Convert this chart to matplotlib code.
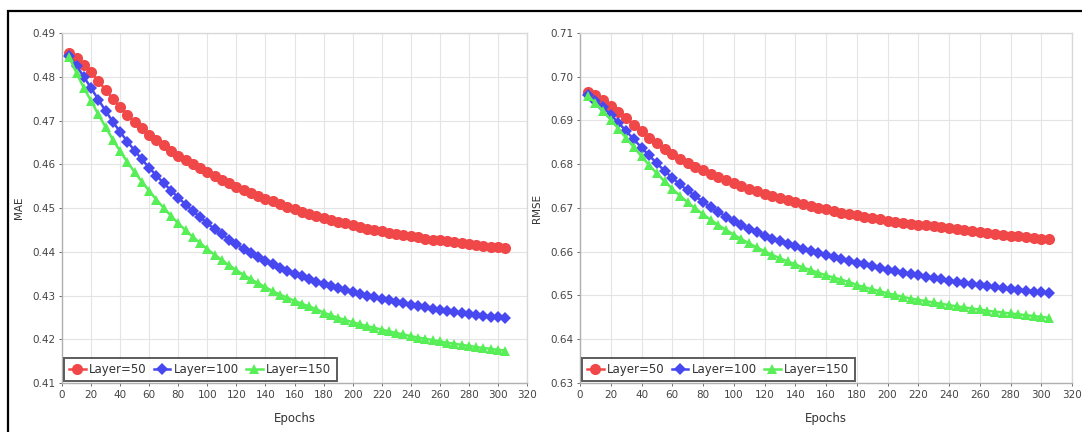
import matplotlib
matplotlib.use("Agg")
import matplotlib.pyplot as plt
from matplotlib.patches import Rectangle

# epochs 5..305 step 5
epochs = [5, 10, 15, 20, 25, 30, 35, 40, 45, 50, 55, 60, 65, 70, 75, 80, 85, 90, 95, 100,
          105, 110, 115, 120, 125, 130, 135, 140, 145, 150, 155, 160, 165, 170, 175, 180,
          185, 190, 195, 200, 205, 210, 215, 220, 225, 230, 235, 240, 245, 250, 255, 260,
          265, 270, 275, 280, 285, 290, 295, 300, 305]

mae_50 = [0.4855, 0.4843, 0.4828, 0.4810, 0.4790, 0.4770, 0.4750, 0.4731, 0.4713, 0.4697,
          0.4682, 0.4668, 0.4655, 0.4643, 0.4631, 0.4620, 0.4610, 0.4600, 0.4591, 0.4582,
          0.4573, 0.4565, 0.4557, 0.4549, 0.4542, 0.4535, 0.4528, 0.4521, 0.4515, 0.4509,
          0.4503, 0.4497, 0.4492, 0.4487, 0.4482, 0.4477, 0.4473, 0.4469, 0.4465, 0.4461,
          0.4457, 0.4453, 0.4450, 0.4447, 0.4444, 0.4441, 0.4438, 0.4435, 0.4433, 0.4430,
          0.4428, 0.4426, 0.4424, 0.4422, 0.4420, 0.4418, 0.4416, 0.4414, 0.4412, 0.4410,
          0.4408]
mae_100 = [0.4848, 0.4825, 0.4800, 0.4774, 0.4748, 0.4722, 0.4697, 0.4674, 0.4652, 0.4631,
           0.4611, 0.4592, 0.4574, 0.4557, 0.4540, 0.4524, 0.4508, 0.4493, 0.4479, 0.4465,
           0.4452, 0.4440, 0.4428, 0.4417, 0.4407, 0.4397, 0.4388, 0.4380, 0.4372, 0.4364,
           0.4357, 0.4350, 0.4344, 0.4338, 0.4332, 0.4327, 0.4322, 0.4317, 0.4312, 0.4308,
           0.4304, 0.4300, 0.4296, 0.4292, 0.4289, 0.4285, 0.4282, 0.4279, 0.4276, 0.4273,
           0.4270, 0.4268, 0.4265, 0.4263, 0.4260, 0.4258, 0.4256, 0.4254, 0.4252, 0.4250,
           0.4248]
mae_150 = [0.4845, 0.4808, 0.4775, 0.4745, 0.4714, 0.4685, 0.4656, 0.4630, 0.4605, 0.4582,
           0.4560, 0.4539, 0.4519, 0.4500, 0.4482, 0.4465, 0.4449, 0.4434, 0.4420, 0.4406,
           0.4393, 0.4381, 0.4369, 0.4358, 0.4347, 0.4337, 0.4328, 0.4319, 0.4310, 0.4302,
           0.4295, 0.4288, 0.4281, 0.4275, 0.4269, 0.4261, 0.4255, 0.4249, 0.4244, 0.4239,
           0.4234, 0.4230, 0.4226, 0.4222, 0.4218, 0.4214, 0.4211, 0.4207, 0.4204, 0.4201,
           0.4198, 0.4195, 0.4192, 0.4190, 0.4187, 0.4185, 0.4182, 0.4180, 0.4178, 0.4176,
           0.4174]

rmse_50 = [0.6965, 0.6958, 0.6947, 0.6934, 0.6920, 0.6905, 0.6890, 0.6875, 0.6861, 0.6848,
           0.6835, 0.6824, 0.6813, 0.6803, 0.6794, 0.6786, 0.6778, 0.6771, 0.6764, 0.6757,
           0.6750, 0.6744, 0.6738, 0.6733, 0.6728, 0.6723, 0.6718, 0.6713, 0.6709, 0.6705,
           0.6701, 0.6697, 0.6693, 0.6689, 0.6686, 0.6683, 0.6680, 0.6677, 0.6674, 0.6671,
           0.6669, 0.6666, 0.6664, 0.6662, 0.6660, 0.6658, 0.6656, 0.6654, 0.6652, 0.6650,
           0.6648, 0.6645, 0.6643, 0.6641, 0.6639, 0.6637, 0.6635, 0.6634, 0.6632, 0.6630,
           0.6629]
rmse_100 = [0.6958, 0.6945, 0.6930, 0.6913, 0.6895, 0.6876, 0.6857, 0.6838, 0.6820, 0.6802,
            0.6785, 0.6769, 0.6754, 0.6740, 0.6727, 0.6714, 0.6702, 0.6691, 0.6680, 0.6670,
            0.6660, 0.6652, 0.6644, 0.6637, 0.6630, 0.6624, 0.6618, 0.6613, 0.6607, 0.6602,
            0.6597, 0.6592, 0.6588, 0.6583, 0.6579, 0.6575, 0.6571, 0.6567, 0.6563, 0.6559,
            0.6556, 0.6552, 0.6549, 0.6546, 0.6543, 0.6540, 0.6537, 0.6534, 0.6531, 0.6529,
            0.6526, 0.6524, 0.6521, 0.6519, 0.6517, 0.6515, 0.6513, 0.6511, 0.6509, 0.6507,
            0.6505]
rmse_150 = [0.6957, 0.6940, 0.6922, 0.6902, 0.6881, 0.6860, 0.6839, 0.6818, 0.6798, 0.6779,
            0.6761, 0.6744, 0.6728, 0.6713, 0.6699, 0.6686, 0.6673, 0.6661, 0.6650, 0.6639,
            0.6629, 0.6619, 0.6610, 0.6601, 0.6593, 0.6585, 0.6578, 0.6571, 0.6564, 0.6558,
            0.6552, 0.6546, 0.6541, 0.6536, 0.6531, 0.6524, 0.6519, 0.6514, 0.6510, 0.6505,
            0.6501, 0.6497, 0.6493, 0.6490, 0.6487, 0.6484, 0.6481, 0.6478, 0.6475, 0.6473,
            0.6470, 0.6468, 0.6465, 0.6463, 0.6461, 0.6459, 0.6457, 0.6455, 0.6453, 0.6451,
            0.6449]

labels = ["Layer=50", "Layer=100", "Layer=150"]
xticks = list(range(0, 321, 20))
mae_ticks = [0.41, 0.42, 0.43, 0.44, 0.45, 0.46, 0.47, 0.48, 0.49]
rmse_ticks = [0.63, 0.64, 0.65, 0.66, 0.67, 0.68, 0.69, 0.70, 0.71]

colors = ["#f04848", "#4848f0", "#58ee58"]
markers = ["o", "D", "^"]
msizes = [8, 6, 6.5]

W, H = 1082, 432
fig = plt.figure(figsize=(W / 100, H / 100), dpi=100)

# outer frame of the picture
fig.patches.append(Rectangle((8 / W, -0.05), 1.1, 1 - 11 / H + 0.05,
                             transform=fig.transFigure, fill=False,
                             edgecolor="black", linewidth=1.6))

ax1 = fig.add_axes([62 / W, 49 / H, 465 / W, 350 / H])
ax2 = fig.add_axes([580 / W, 49 / H, 492 / W, 350 / H])


def draw(ax, series, yticks, ylabel):
    for vals, c, m, ms, lab in zip(series, colors, markers, msizes, labels):
        ax.plot(epochs, vals, "-", color=c, marker=m, markersize=ms,
                markeredgewidth=0, linewidth=1.8, label=lab)
    ax.set_xlim(0, 320)
    ax.set_ylim(yticks[0], yticks[-1])
    ax.set_xticks(xticks)
    ax.set_yticks(yticks)
    ax.set_yticklabels(["%.2f" % v for v in yticks])
    ax.grid(True, color="#e4e4e4", linewidth=0.8)
    ax.set_axisbelow(True)
    for s in ax.spines.values():
        s.set_color("#d8d8d8")
        s.set_linewidth(1.0)
    ax.spines["left"].set_color("#b0b0b0")
    ax.spines["bottom"].set_color("#b0b0b0")
    ax.tick_params(labelsize=7.5, colors="#555555", length=2, width=0.6,
                   labelcolor="#444444", pad=3)
    ax.set_xlabel("Epochs", fontsize=8.5, color="#333333", labelpad=9)
    ax.set_ylabel(ylabel, fontsize=7.5, color="#333333", labelpad=6)
    leg = ax.legend(loc="lower left", ncol=3, fontsize=8.5, frameon=True,
                    fancybox=False, borderaxespad=0.15, handlelength=1.4,
                    handletextpad=0.3, columnspacing=0.6, borderpad=0.45)
    leg.get_frame().set_edgecolor("#333333")
    leg.get_frame().set_linewidth(1.4)
    for t in leg.get_texts():
        t.set_color("#333333")


draw(ax1, [mae_50, mae_100, mae_150], mae_ticks, "MAE")
draw(ax2, [rmse_50, rmse_100, rmse_150], rmse_ticks, "RMSE")

fig.savefig("out.png", dpi=100)
